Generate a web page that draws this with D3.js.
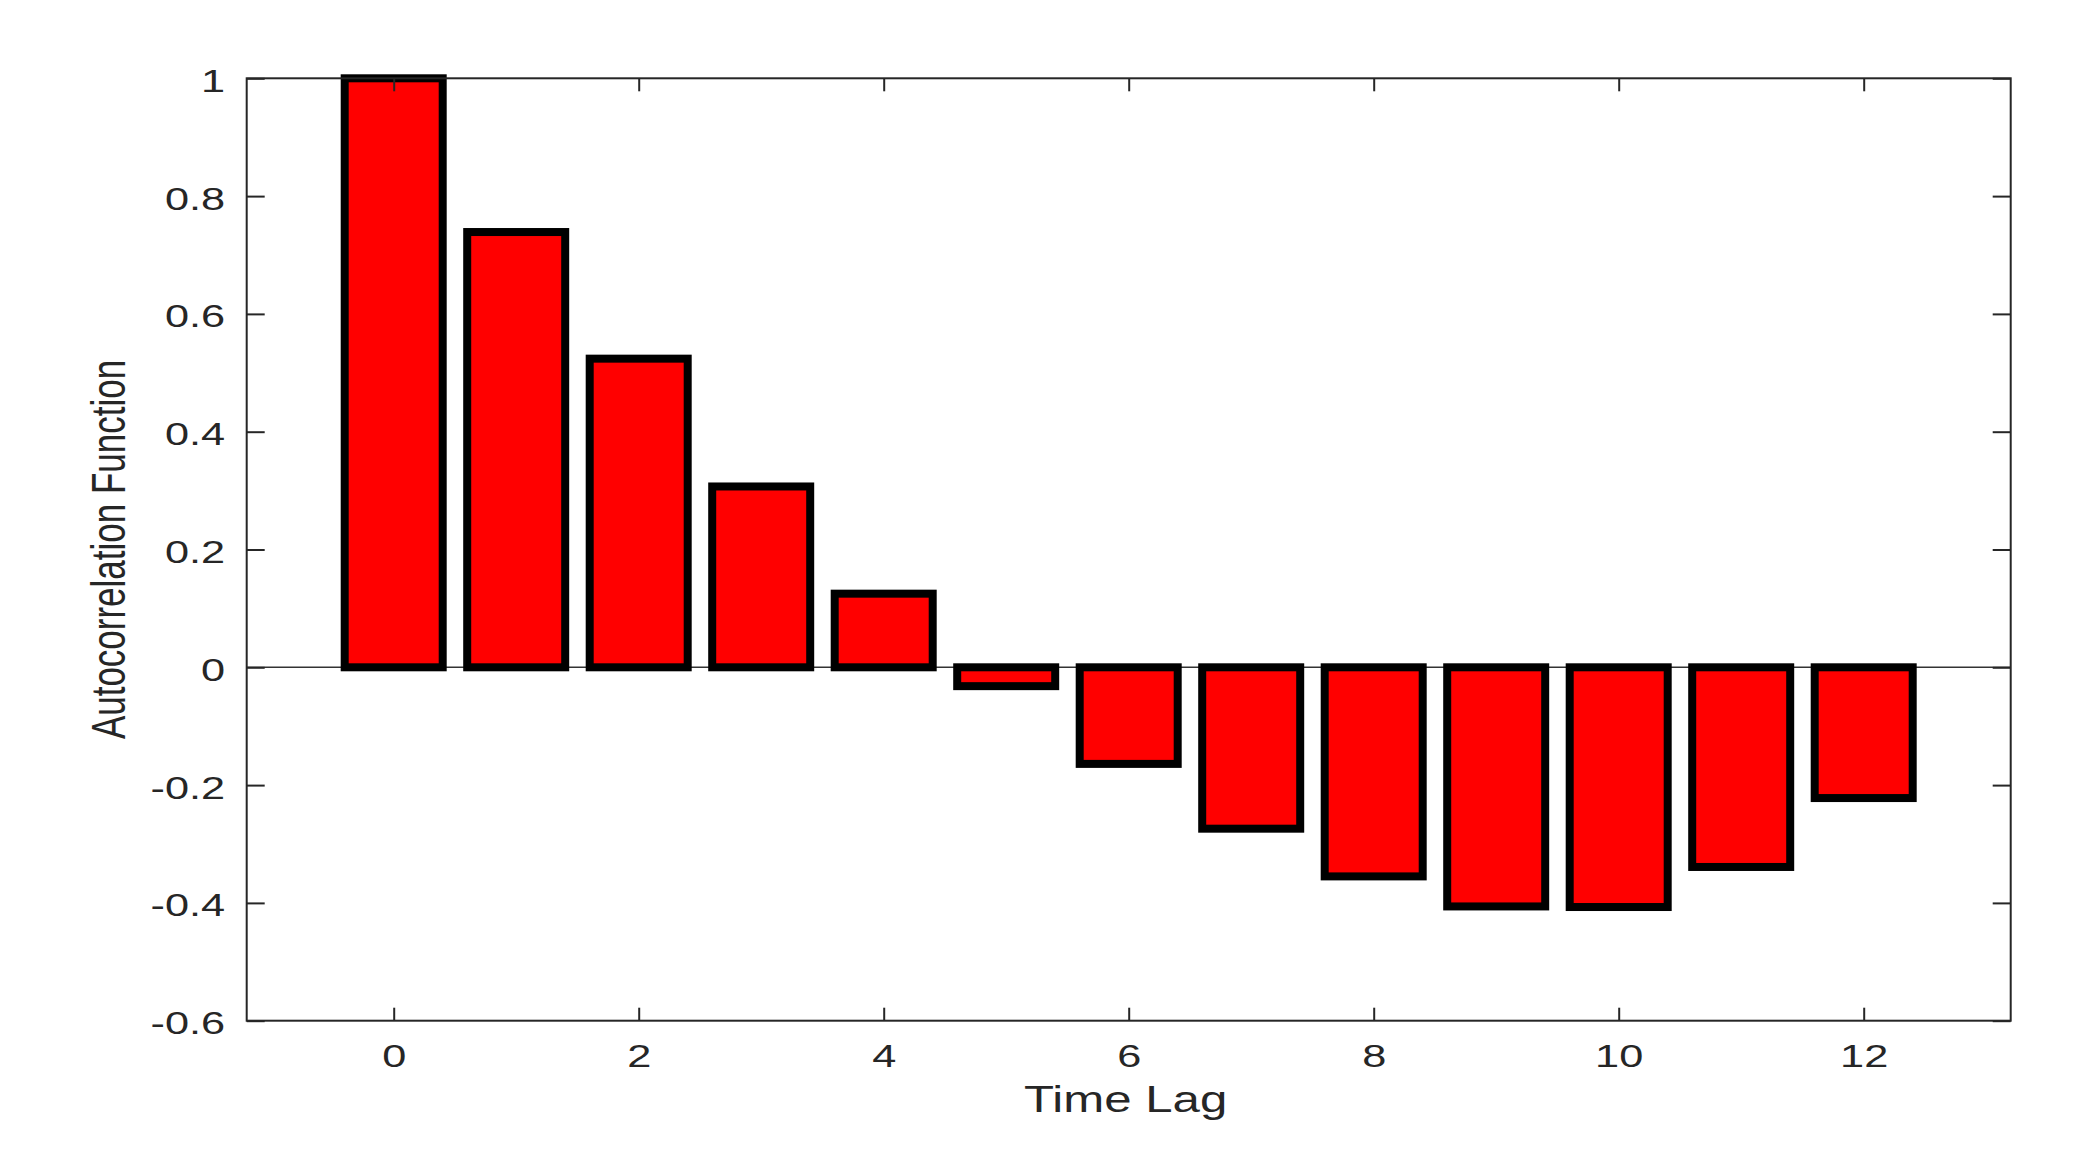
<!DOCTYPE html>
<html>
<head>
<meta charset="utf-8">
<script src="https://cdn.jsdelivr.net/npm/d3@7"></script>
<style>
  html, body { margin: 0; padding: 0; background: #fff; }
  svg { display: block; }
  text { font-family: "Liberation Sans", Arial, Helvetica, sans-serif; fill: #262626; }
</style>
</head>
<body>
<svg id="chart" width="2088" height="1152"></svg>
<script>
const lags = [0, 1, 2, 3, 4, 5, 6, 7, 8, 9, 10, 11, 12];
const acf = [1.0, 0.739, 0.524, 0.307, 0.125, -0.032, -0.164, -0.274, -0.355, -0.406, -0.407, -0.339, -0.222];
const xTicks = [0, 2, 4, 6, 8, 10, 12];
const yTicks = [-0.6, -0.4, -0.2, 0, 0.2, 0.4, 0.6, 0.8, 1];
const xLabel = "Time Lag";
const yLabel = "Autocorrelation Function";

const W = 2088, H = 1152;
const L = 246.7, R = 2010.7, T = 78.3, B = 1020.7;
const sx = 1.42; // horizontal stretch of tick labels

const svg = d3.select("#chart");
const x = d3.scaleLinear().domain([-1.2, 13.2]).range([L, R]);
const y = d3.scaleLinear().domain([-0.6, 1]).range([B, T]);
const barW = 0.8;

// zero baseline
svg.append("line")
  .attr("x1", L).attr("x2", R)
  .attr("y1", y(0)).attr("y2", y(0))
  .attr("stroke", "#333").attr("stroke-width", 1.6);

// bars
svg.append("g").selectAll("rect")
  .data(lags.map((l, i) => ({ lag: l, v: acf[i] })))
  .join("rect")
  .attr("x", d => x(d.lag - barW / 2))
  .attr("width", d => x(d.lag + barW / 2) - x(d.lag - barW / 2))
  .attr("y", d => y(Math.max(0, d.v)))
  .attr("height", d => Math.abs(y(d.v) - y(0)))
  .attr("fill", "#ff0000")
  .attr("stroke", "#000")
  .attr("stroke-width", 8);

const fmt = d => (d === 0 ? "0" : String(d));

// bottom axis
const gx = svg.append("g").attr("transform", `translate(0,${B})`)
  .call(d3.axisBottom(x).tickValues(xTicks).tickSize(-13).tickSizeOuter(0).tickFormat(fmt));
gx.select(".domain").remove();
gx.selectAll(".tick line").attr("stroke", "#262626").attr("stroke-width", 2);
gx.selectAll(".tick text")
  .attr("y", null).attr("dy", null)
  .attr("transform", `translate(0,46) scale(${sx},1)`)
  .style("font-size", "30.5px").style("fill", "#262626");

// top axis ticks
const gxt = svg.append("g").attr("transform", `translate(0,${T})`)
  .call(d3.axisTop(x).tickValues(xTicks).tickSize(-13).tickSizeOuter(0).tickFormat(""));
gxt.select(".domain").remove();
gxt.selectAll(".tick line").attr("stroke", "#262626").attr("stroke-width", 2);

// left axis
const gy = svg.append("g").attr("transform", `translate(${L},0)`)
  .call(d3.axisLeft(y).tickValues(yTicks).tickSize(-18).tickSizeOuter(0).tickFormat(fmt));
gy.select(".domain").remove();
gy.selectAll(".tick line").attr("stroke", "#262626").attr("stroke-width", 2);
gy.selectAll(".tick text")
  .attr("x", null).attr("dy", null)
  .attr("text-anchor", "end")
  .attr("transform", `translate(-21.5,13) scale(${sx},1)`)
  .style("font-size", "30.5px").style("fill", "#262626");

// right axis ticks
const gyr = svg.append("g").attr("transform", `translate(${R},0)`)
  .call(d3.axisRight(y).tickValues(yTicks).tickSize(-18).tickSizeOuter(0).tickFormat(""));
gyr.select(".domain").remove();
gyr.selectAll(".tick line").attr("stroke", "#262626").attr("stroke-width", 2);

// box
svg.append("rect")
  .attr("x", L).attr("y", T).attr("width", R - L).attr("height", B - T)
  .attr("fill", "none").attr("stroke", "#262626").attr("stroke-width", 2);

// x label
svg.append("text")
  .attr("text-anchor", "middle")
  .attr("transform", `translate(${(L + R) / 2 - 3},1112) scale(1.33,1)`)
  .style("font-size", "37px")
  .text(xLabel);

// y label
svg.append("text")
  .attr("text-anchor", "middle")
  .attr("transform", `translate(125,${(T + B) / 2}) scale(1.39,1) rotate(-90)`)
  .style("font-size", "35px")
  .text(yLabel);
</script>
</body>
</html>
